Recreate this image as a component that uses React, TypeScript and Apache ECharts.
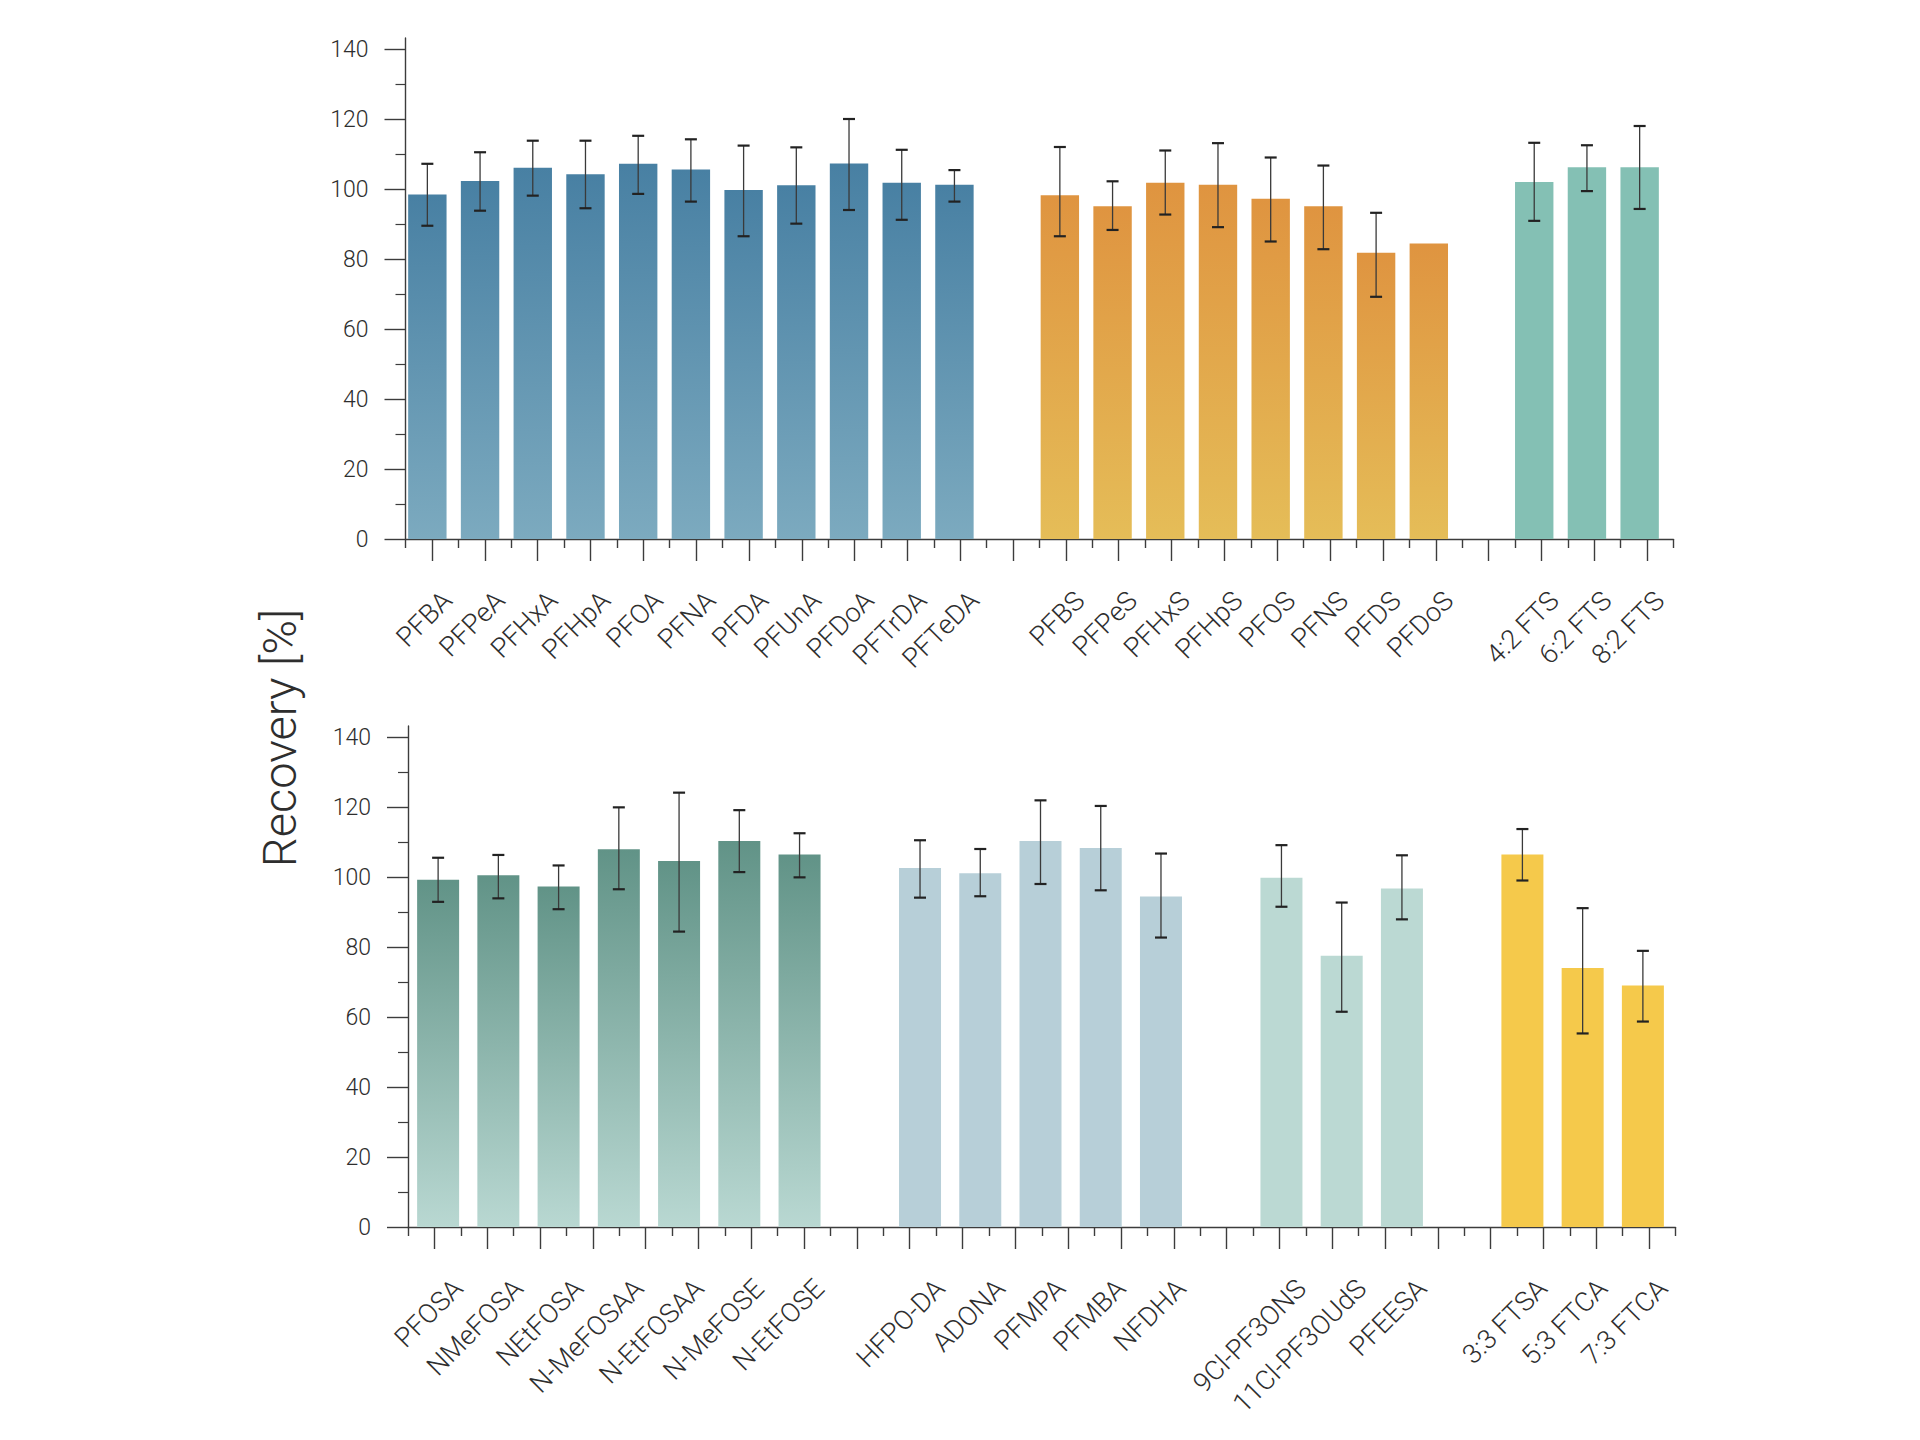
import React, { useEffect, useRef } from "react";
import * as echarts from "echarts";

// ---------- data ----------
const topCategories = [
  "PFBA", "PFPeA", "PFHxA", "PFHpA", "PFOA", "PFNA", "PFDA", "PFUnA", "PFDoA", "PFTrDA", "PFTeDA", "",
  "PFBS", "PFPeS", "PFHxS", "PFHpS", "PFOS", "PFNS", "PFDS", "PFDoS", "",
  "4:2 FTS", "6:2 FTS", "8:2 FTS",
];
const bottomCategories = [
  "PFOSA", "NMeFOSA", "NEtFOSA", "N-MeFOSAA", "N-EtFOSAA", "N-MeFOSE", "N-EtFOSE", "",
  "HFPO-DA", "ADONA", "PFMPA", "PFMBA", "NFDHA", "",
  "9Cl-PF3ONS", "11Cl-PF3OUdS", "PFEESA", "",
  "3:3 FTSA", "5:3 FTCA", "7:3 FTCA",
];
const yTicks = [0, 20, 40, 60, 80, 100, 120, 140];

// PFCA
const pfcaNames = ["PFBA", "PFPeA", "PFHxA", "PFHpA", "PFOA", "PFNA", "PFDA", "PFUnA", "PFDoA", "PFTrDA", "PFTeDA"];
const pfcaValues = [98.4, 102.3, 106.1, 104.2, 107.2, 105.6, 99.7, 101.1, 107.3, 101.8, 101.2];
const pfcaLow = [89.5, 93.8, 98.1, 94.5, 98.6, 96.4, 86.5, 90.1, 94.0, 91.2, 96.4];
const pfcaHigh = [107.2, 110.5, 113.8, 113.8, 115.2, 114.2, 112.4, 111.9, 120.0, 111.2, 105.4];

// PFSA
const pfsaNames = ["PFBS", "PFPeS", "PFHxS", "PFHpS", "PFOS", "PFNS", "PFDS", "PFDoS"];
const pfsaValues = [98.2, 95.1, 101.8, 101.2, 97.2, 95.1, 81.8, 84.4];
const pfsaLow = [86.5, 88.3, 92.7, 89.1, 85.0, 82.8, 69.2, null];
const pfsaHigh = [112.0, 102.2, 111.0, 113.1, 109.0, 106.7, 93.2, null];

// FTS
const ftsNames = ["4:2 FTS", "6:2 FTS", "8:2 FTS"];
const ftsValues = [102.0, 106.2, 106.2];
const ftsLow = [90.9, 99.4, 94.3];
const ftsHigh = [113.2, 112.5, 118.0];

// FOSA / FOSE
const fosaNames = ["PFOSA", "NMeFOSA", "NEtFOSA", "N-MeFOSAA", "N-EtFOSAA", "N-MeFOSE", "N-EtFOSE"];
const fosaValues = [99.2, 100.5, 97.3, 107.9, 104.6, 110.3, 106.4];
const fosaLow = [92.9, 93.9, 90.8, 96.5, 84.4, 101.4, 99.9];
const fosaHigh = [105.5, 106.3, 103.3, 119.9, 124.1, 119.1, 112.5];

// ether carboxylic acids
const etherNames = ["HFPO-DA", "ADONA", "PFMPA", "PFMBA", "NFDHA"];
const etherValues = [102.6, 101.1, 110.3, 108.3, 94.4];
const etherLow = [94.1, 94.5, 98.0, 96.2, 82.7];
const etherHigh = [110.5, 108.0, 121.9, 120.3, 106.7];

// ether sulfonic acids
const ethSulfNames = ["9Cl-PF3ONS", "11Cl-PF3OUdS", "PFEESA"];
const ethSulfValues = [99.8, 77.5, 96.7];
const ethSulfLow = [91.5, 61.5, 87.9];
const ethSulfHigh = [109.1, 92.7, 106.2];

// FTCA
const ftcaNames = ["3:3 FTSA", "5:3 FTCA", "7:3 FTCA"];
const ftcaValues = [106.4, 74.0, 69.0];
const ftcaLow = [99.0, 55.3, 58.7];
const ftcaHigh = [113.7, 91.1, 78.9];

// ---------- helpers ----------
const FONT = "Roboto";
const TEXT = "#2e2e2e";
const AXIS = "#3c3c3c";

function grad(top: string, bottom: string) {
  return new echarts.graphic.LinearGradient(0, 0, 0, 1, [
    { offset: 0, color: top },
    { offset: 1, color: bottom },
  ]);
}

function barSeries(
  cats: string[], names: string[], values: number[], color: any,
  xIdx: number, yIdx: number, barWidth: number, stack: string
) {
  const data = cats.map((c) => {
    const i = names.indexOf(c);
    return c !== "" && i >= 0 ? values[i] : "-";
  });
  return {
    type: "bar", xAxisIndex: xIdx, yAxisIndex: yIdx, stack, barWidth,
    data, itemStyle: { color }, silent: true, z: 2,
  };
}

function errData(cats: string[], names: string[], low: (number | null)[], high: (number | null)[]) {
  const out: any[] = [];
  names.forEach((n, i) => {
    if (low[i] == null || high[i] == null) return;
    out.push([cats.indexOf(n), low[i], high[i]]);
  });
  return out;
}

function errSeries(data: any[], xIdx: number, yIdx: number) {
  return {
    type: "custom", xAxisIndex: xIdx, yAxisIndex: yIdx, z: 5, silent: true,
    encode: { x: 0, y: [1, 2] },
    data,
    renderItem: (_p: any, api: any) => {
      const x = api.value(0);
      const lo = api.coord([x, api.value(1)]);
      const hi = api.coord([x, api.value(2)]);
      const cx = lo[0];
      const hw = 6;
      return {
        type: "group",
        children: [
          { type: "line", shape: { x1: cx, y1: hi[1], x2: cx, y2: lo[1] }, style: { stroke: "#3a3a3a", lineWidth: 1.3 } },
          { type: "line", shape: { x1: cx - hw, y1: hi[1], x2: cx + hw, y2: hi[1] }, style: { stroke: "#222", lineWidth: 2.2 } },
          { type: "line", shape: { x1: cx - hw, y1: lo[1], x2: cx + hw, y2: lo[1] }, style: { stroke: "#222", lineWidth: 2.2 } },
        ],
      };
    },
  };
}

type Panel = {
  cats: string[]; top: number; height: number;
  barLeft: number; barSpan: number; tickLeft: number; tickSpan: number;
};

const LABEL_DX = 20;
const LABEL_MARGIN = 57;

function panelAxes(p: Panel, gBase: number) {
  const grids = [
    { left: p.barLeft, top: p.top, width: p.barSpan, height: p.height },
    { left: p.tickLeft, top: p.top, width: p.tickSpan, height: p.height },
    { left: p.barLeft + LABEL_DX, top: p.top, width: p.barSpan, height: p.height },
    { left: p.tickLeft, top: p.top - 11, width: p.tickSpan, height: p.height + 11 },
  ];
  const tickCount = 24;
  const tickCats = Array.from({ length: tickCount }, (_, i) => "t" + i);
  const xAxes = [
    { gridIndex: gBase, type: "category", data: p.cats, show: false },
    {
      gridIndex: gBase + 1, type: "category", data: tickCats, position: "bottom",
      axisLine: { show: true, lineStyle: { color: AXIS, width: 1.4 } },
      axisTick: { show: true, alignWithLabel: true, length: 22, lineStyle: { color: AXIS, width: 1.4 } },
      axisLabel: { show: false }, splitLine: { show: false },
    },
    {
      gridIndex: gBase + 1, type: "category", data: tickCats, position: "bottom", offset: 0,
      axisLine: { show: false },
      axisTick: { show: true, length: 9, lineStyle: { color: AXIS, width: 1.4 } },
      axisLabel: { show: false }, splitLine: { show: false },
    },
    {
      gridIndex: gBase + 2, type: "category", data: p.cats, position: "bottom",
      axisLine: { show: false }, axisTick: { show: false },
      axisLabel: {
        show: true, interval: 0, rotate: 45, margin: LABEL_MARGIN,
        fontFamily: FONT, fontWeight: 300, fontSize: 27, color: TEXT,
      },
    },
    { gridIndex: gBase + 3, type: "category", data: ["a"], show: false },
  ];
  const yAxes = [
    { gridIndex: gBase, type: "value", min: 0, max: 140, show: false },
    {
      gridIndex: gBase + 1, type: "value", min: yTicks[0], max: yTicks[yTicks.length - 1], interval: 20,
      axisLine: { show: false },
      axisTick: { show: true, length: 21, lineStyle: { color: AXIS, width: 1.4 } },
      minorTick: { show: true, splitNumber: 2, length: 10, lineStyle: { color: AXIS, width: 1.2 } },
      splitLine: { show: false },
      axisLabel: { margin: 37, fontFamily: FONT, fontWeight: 300, fontSize: 23, color: TEXT },
    },
    { gridIndex: gBase + 2, type: "value", min: 0, max: 140, show: false },
    {
      gridIndex: gBase + 3, type: "value", min: 0, max: 1,
      axisLine: { show: true, lineStyle: { color: AXIS, width: 1.4 } },
      axisTick: { show: false }, axisLabel: { show: false }, splitLine: { show: false },
    },
  ];
  return { grids, xAxes, yAxes };
}

export default function App() {
  const ref = useRef<HTMLDivElement>(null);
  useEffect(() => {
    if (!ref.current) return;
    const chart = echarts.init(ref.current, undefined, { renderer: "svg" });

    const topPanel: Panel = { cats: topCategories, top: 49, height: 490, barLeft: 401, barSpan: 1265, tickLeft: 405.5, tickSpan: 1268 };
    const botPanel: Panel = { cats: bottomCategories, top: 737, height: 490, barLeft: 408, barSpan: 1265, tickLeft: 408, tickSpan: 1267.5 };
    const a = panelAxes(topPanel, 0);
    const b = panelAxes(botPanel, 4);

    const series: any[] = [
      barSeries(topCategories, pfcaNames, pfcaValues, grad("#4880a3", "#7caabf"), 0, 0, 38.4, "t"),
      barSeries(topCategories, pfsaNames, pfsaValues, grad("#df9440", "#e5bd58"), 0, 0, 38.4, "t"),
      barSeries(topCategories, ftsNames, ftsValues, "#84c0b4", 0, 0, 38.4, "t"),
      errSeries(errData(topCategories, pfcaNames, pfcaLow, pfcaHigh), 0, 0),
      errSeries(errData(topCategories, pfsaNames, pfsaLow, pfsaHigh), 0, 0),
      errSeries(errData(topCategories, ftsNames, ftsLow, ftsHigh), 0, 0),

      barSeries(bottomCategories, fosaNames, fosaValues, grad("#619387", "#b9d8d2"), 5, 4, 42, "b"),
      barSeries(bottomCategories, etherNames, etherValues, "#b7cfd8", 5, 4, 42, "b"),
      barSeries(bottomCategories, ethSulfNames, ethSulfValues, "#bbd9d3", 5, 4, 42, "b"),
      barSeries(bottomCategories, ftcaNames, ftcaValues, "#f5c94b", 5, 4, 42, "b"),
      errSeries(errData(bottomCategories, fosaNames, fosaLow, fosaHigh), 5, 4),
      errSeries(errData(bottomCategories, etherNames, etherLow, etherHigh), 5, 4),
      errSeries(errData(bottomCategories, ethSulfNames, ethSulfLow, ethSulfHigh), 5, 4),
      errSeries(errData(bottomCategories, ftcaNames, ftcaLow, ftcaHigh), 5, 4),
    ];

    chart.setOption({
      animation: false,
      backgroundColor: "#ffffff",
      textStyle: { fontFamily: FONT },
      grid: [...a.grids, ...b.grids],
      xAxis: [...a.xAxes, ...b.xAxes],
      yAxis: [...a.yAxes, ...b.yAxes],
      graphic: [
        {
          type: "text", x: 279, y: 738, rotation: Math.PI / 2,
          style: {
            text: "Recovery [%]", align: "center", verticalAlign: "middle",
            fontFamily: FONT, fontWeight: 300, fontSize: 47, fill: TEXT,
          },
        },
      ],
      series,
    });
    return () => chart.dispose();
  }, []);
  return (
    <div
      ref={ref}
      style={{ position: "absolute", left: 0, top: 0, width: 1920, height: 1440, background: "#fff" }}
    />
  );
}
